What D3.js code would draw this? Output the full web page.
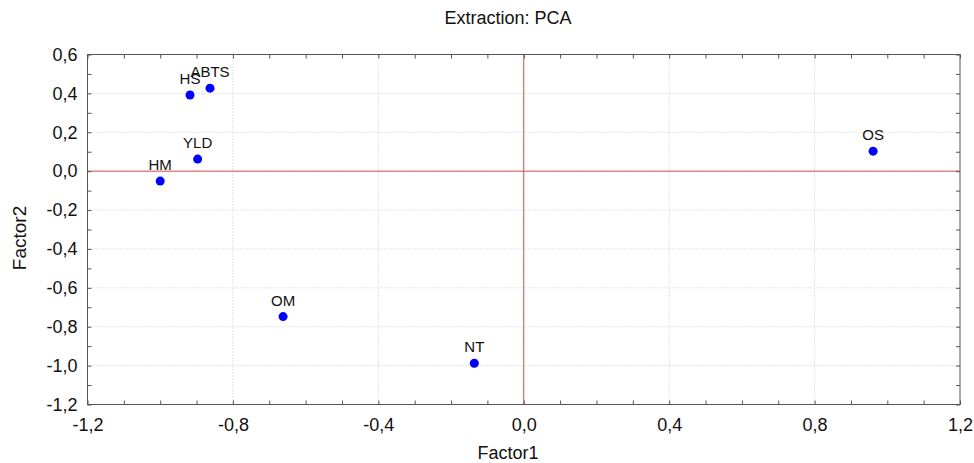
<!DOCTYPE html>
<html>
<head>
<meta charset="utf-8">
<script src="https://cdn.jsdelivr.net/npm/d3@7"></script>
<style>
  body { margin: 0; background: #fff; }
  text { font-family: "Liberation Sans", Arial, sans-serif; fill: #111; }
</style>
</head>
<body>
<div id="vis"></div>
<script>
// variable loadings on factor 1 / factor 2
const names = ["HS", "ABTS", "YLD", "HM", "OM", "NT", "OS"];
const factor1 = [-0.918, -0.863, -0.897, -1.000, -0.662, -0.136, 0.961];
const factor2 = [0.392, 0.427, 0.062, -0.051, -0.748, -0.988, 0.103];
const xTicks = [-1.2, -0.8, -0.4, 0.0, 0.4, 0.8, 1.2];
const yTicks = [0.6, 0.4, 0.2, 0.0, -0.2, -0.4, -0.6, -0.8, -1.0, -1.2];

const width = 974, height = 463;
const margins = {top: 54.5, bottom: 58.5, left: 87.5, right: 14};
const fmt = d => d3.format(".1f")(d).replace(".", ",").replace("−", "-");

const x = d3.scaleLinear().domain([-1.2, 1.2]).range([margins.left, width - margins.right]);
const y = d3.scaleLinear().domain([-1.2, 0.6]).range([height - margins.bottom, margins.top]);
const minorX = d3.range(-12, 13).map(d => d / 10);
const minorY = d3.range(-12, 7).map(d => d / 10);

const svg = d3.select("#vis").append("svg").attr("width", width).attr("height", height);

// dotted grid
svg.append("g").selectAll("line").data(xTicks.slice(1, -1)).enter().append("line")
    .attr("x1", d => x(d)).attr("x2", d => x(d))
    .attr("y1", y(0.6)).attr("y2", y(-1.2))
    .attr("stroke", "#c8c8c8").attr("stroke-dasharray", "1,2");
svg.append("g").selectAll("line").data(yTicks.slice(1, -1)).enter().append("line")
    .attr("x1", x(-1.2)).attr("x2", x(1.2))
    .attr("y1", d => y(d)).attr("y2", d => y(d))
    .attr("stroke", "#c8c8c8").attr("stroke-dasharray", "1,2");

// zero lines
svg.append("line").attr("x1", x(0)).attr("x2", x(0)).attr("y1", y(0.6)).attr("y2", y(-1.2))
    .attr("stroke", "#e05050").attr("stroke-width", 1);
svg.append("line").attr("x1", x(-1.2)).attr("x2", x(1.2)).attr("y1", y(0)).attr("y2", y(0))
    .attr("stroke", "#e05050").attr("stroke-width", 1);

// axes, ticks inward
const axisStyle = g => {
    g.select(".domain").remove();
    g.selectAll(".tick line").attr("stroke", "#555");
    g.selectAll("text").style("font-size", "18px").attr("fill", "#111");
};
svg.append("g").attr("transform", `translate(0,${y(-1.2)})`)
    .call(d3.axisBottom(x).tickValues(minorX).tickSize(-4).tickFormat(d => xTicks.some(t => Math.abs(t - d) < 1e-9) ? fmt(d) : "").tickPadding(14))
    .call(axisStyle);
svg.append("g").attr("transform", `translate(0,${y(0.6)})`)
    .call(d3.axisTop(x).tickValues(minorX).tickSize(-4).tickFormat(""))
    .call(axisStyle);
svg.append("g").attr("transform", `translate(${x(-1.2)},0)`)
    .call(d3.axisLeft(y).tickValues(minorY).tickSize(-4).tickFormat(d => yTicks.some(t => Math.abs(t - d) < 1e-9) ? fmt(d) : "").tickPadding(10))
    .call(axisStyle);
svg.append("g").attr("transform", `translate(${x(1.2)},0)`)
    .call(d3.axisRight(y).tickValues(minorY).tickSize(-4).tickFormat(""))
    .call(axisStyle);

// frame
svg.append("rect").attr("x", x(-1.2)).attr("y", y(0.6))
    .attr("width", x(1.2) - x(-1.2)).attr("height", y(-1.2) - y(0.6))
    .attr("fill", "none").attr("stroke", "#555");

// points
const pts = names.map((n, i) => ({name: n, f1: factor1[i], f2: factor2[i]}));
svg.append("g").selectAll("circle").data(pts).enter().append("circle")
    .attr("cx", d => x(d.f1)).attr("cy", d => y(d.f2)).attr("r", 4.5)
    .attr("fill", "#0000ff");
svg.append("g").selectAll("text").data(pts).enter().append("text")
    .attr("x", d => x(d.f1)).attr("y", d => y(d.f2) - 11)
    .attr("text-anchor", "middle").style("font-size", "15px")
    .text(d => d.name);

// titles
svg.append("text").attr("x", 508).attr("y", 24).attr("text-anchor", "middle")
    .style("font-size", "18px").text("Extraction: PCA");
svg.append("text").attr("x", 508).attr("y", 459).attr("text-anchor", "middle")
    .style("font-size", "18px").text("Factor1");
svg.append("text").attr("transform", "translate(26,238) rotate(-90)").attr("text-anchor", "middle")
    .style("font-size", "19px").text("Factor2");
</script>
</body>
</html>
